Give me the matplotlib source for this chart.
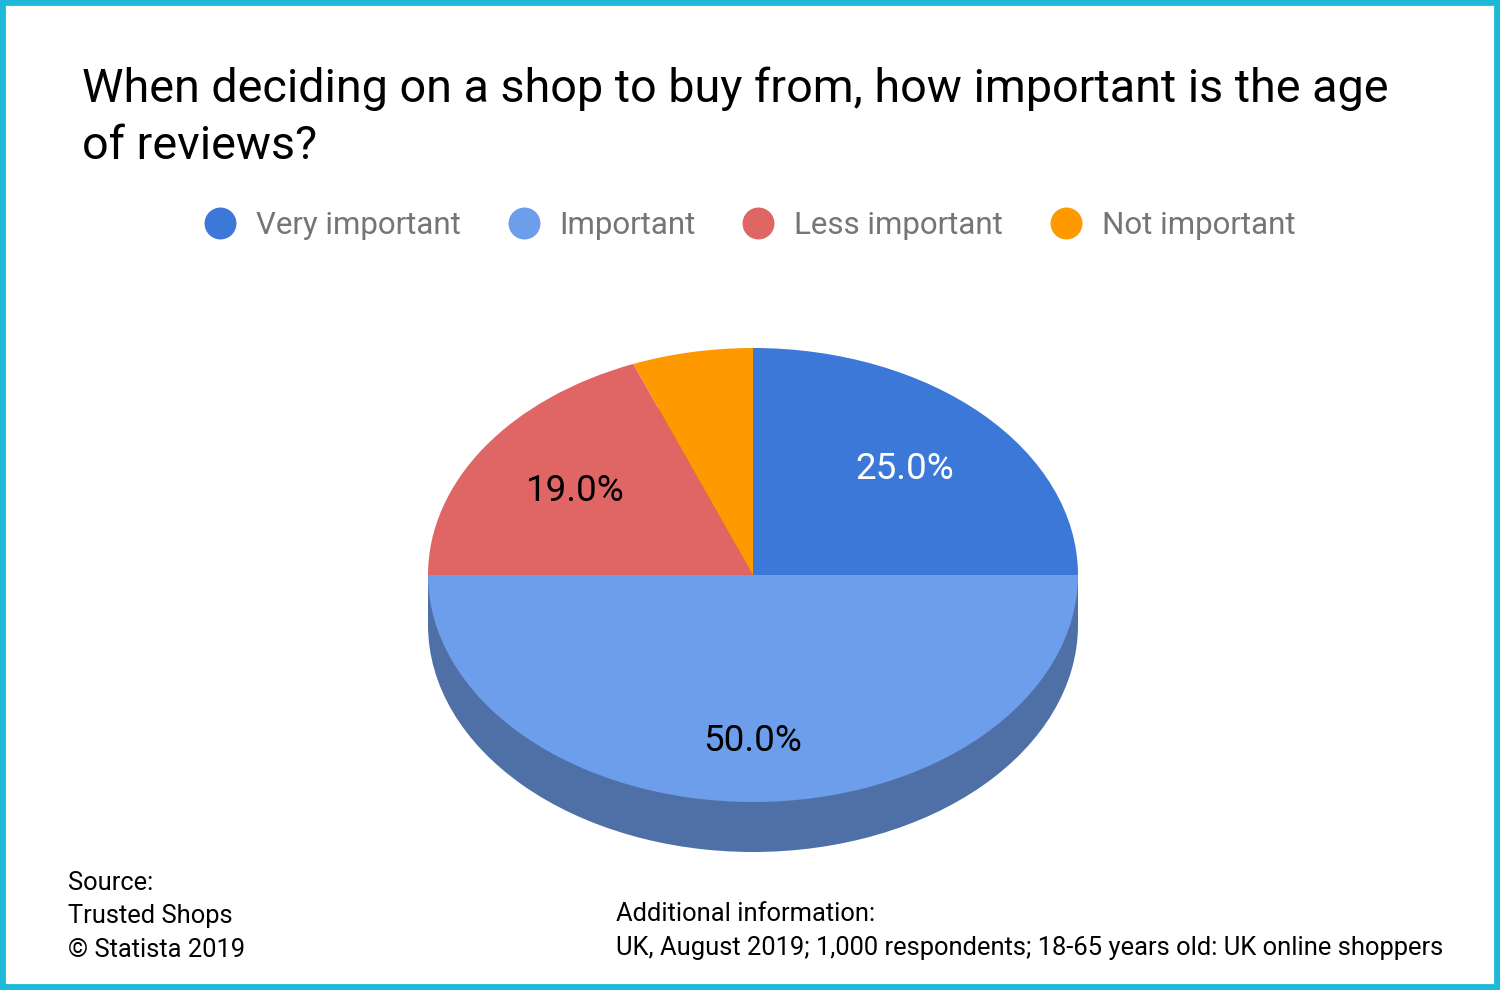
import matplotlib
matplotlib.use("Agg")
import matplotlib.pyplot as plt
from matplotlib.patches import Rectangle
from matplotlib.lines import Line2D

categories = ["Very important", "Important", "Less important", "Not important"]
values = [25.0, 50.0, 19.0, 6.0]
top_colors = ["#3C78D8", "#6D9EEB", "#E06666", "#FF9900"]
side_colors = ["#2D5AA2", "#4F70A6", "#A84D4D", "#BF7300"]
title_lines = ["When deciding on a shop to buy from, how important is the age",
               "of reviews?"]
source_lines = ["Source:", "Trusted Shops", "\u00a9 Statista 2019"]
info_lines = ["Additional information:",
              "UK, August 2019; 1,000 respondents; 18-65 years old: UK online shoppers"]

plt.rcParams['font.family'] = ['Roboto', 'DejaVu Sans']

W, H = 1500, 990
fig = plt.figure(figsize=(W / 100, H / 100), dpi=100)
fig.patch.set_facecolor("white")

def fx(px):
    return px / W

def fy(py):
    return 1 - py / H

# Title
fig.text(fx(82), fy(102), title_lines[0], fontsize=33.7, color="#000000", va="baseline", ha="left")
fig.text(fx(82), fy(159), title_lines[1], fontsize=33.7, color="#000000", va="baseline", ha="left")

# Legend
handles = [Line2D([], [], marker="o", linestyle="", markersize=23, color=c, markeredgewidth=0)
           for c in top_colors]
leg = fig.legend(handles, categories, loc="center", bbox_to_anchor=(fx(750), fy(225)),
                 ncol=4, frameon=False, fontsize=22.5, handlelength=1.0,
                 handletextpad=0.65, columnspacing=1.5, borderaxespad=0, borderpad=0)
for t in leg.get_texts():
    t.set_color("#757575")

# Pie (3D look)
depth = 50 / 227
cx_left, cx_right, top_y, bot_y = 428, 1078, 348, 852
ax = fig.add_axes([fx(cx_left), fy(bot_y), fx(cx_right - cx_left), (bot_y - top_y) / H])

# bottom face
ax.pie(values, colors=side_colors, startangle=90, counterclock=False,
       center=(0, -depth), radius=1, wedgeprops=dict(linewidth=0, antialiased=True))
# side band
ax.add_patch(Rectangle((-1, -depth), 2, depth, facecolor=side_colors[1], edgecolor="none", zorder=1.5))

def fmt(p):
    return "%.1f%%" % p if p >= 10 else ""

wedges, texts, autotexts = ax.pie(values, colors=top_colors, startangle=90, counterclock=False,
                                  radius=1, autopct=fmt, pctdistance=0.66,
                                  wedgeprops=dict(linewidth=0, antialiased=True, zorder=2),
                                  textprops=dict(fontsize=26.5, color="#000000", zorder=3))
for w in wedges:
    w.set_zorder(2)
label_colors = ["#FFFFFF", "#000000", "#000000", "#000000"]
for t, c in zip(autotexts, label_colors):
    t.set_color(c)
    t.set_zorder(3)
# lower the label of the big slice a little, as in the original
x0, y0 = autotexts[1].get_position()
autotexts[1].set_position((x0, -0.73))

ax.set_aspect("auto")
ax.set_xlim(-1, 1)
ax.set_ylim(-1 - depth, 1)
ax.axis("off")

# Source / additional info
for i, s in enumerate(source_lines):
    fig.text(fx(68), fy(890 + 33.5 * i), s, fontsize=18.4, color="#000000", va="baseline", ha="left")
for i, s in enumerate(info_lines):
    fig.text(fx(616), fy(921 + 34 * i), s, fontsize=18.4, color="#000000", va="baseline", ha="left")

# border
fig.patches.append(Rectangle((0, 0), 1, 1, transform=fig.transFigure, fill=False,
                             edgecolor="#1CB9D8", linewidth=8.5, zorder=10))

fig.savefig("out.png", dpi=100, facecolor="white")
